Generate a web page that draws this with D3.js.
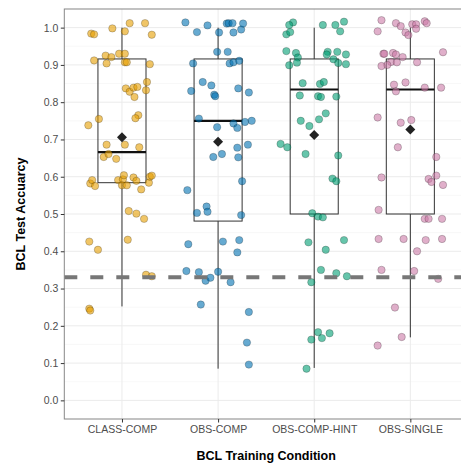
<!DOCTYPE html>
<head>
    <meta charset="utf-8">
    <style>
        html, body { margin: 0; padding: 0; background: #fff; }
        svg { display: block; font-family: "Liberation Sans", Arial, sans-serif; }
        .tick text { fill: #4d4d4d; font-size: 10.5px; }
        .tick line { stroke: #333; }
    </style>
    <script src="https://cdn.jsdelivr.net/npm/d3@7"></script>
</head>
<body>
    <div id="chart"></div>
    <script>
        // conditions on the x axis
        var conditions = ["CLASS-COMP", "OBS-COMP", "OBS-COMP-HINT", "OBS-SINGLE"];
        var colors = ["#E69F00", "#0072B2", "#009E73", "#CC79A7"];
        var yTicks = [0, 0.1, 0.2, 0.3, 0.4, 0.5, 0.6, 0.7, 0.8, 0.9, 1.0];
        var chance = 0.33;

        // per-participant accuracy and horizontal jitter in band units
        var classComp = [0.984, 0.982, 0.998, 1.012, 0.990, 1.012, 0.981, 0.912, 0.925, 0.904, 0.921, 0.930, 0.930, 0.907, 0.907,
            0.902, 0.854, 0.837, 0.828, 0.839, 0.841, 0.832, 0.814, 0.755, 0.738, 0.765, 0.757, 0.686, 0.686, 0.679, 0.653,
            0.661, 0.648, 0.582, 0.591, 0.575, 0.591, 0.593, 0.604, 0.577, 0.577, 0.598, 0.589, 0.566, 0.584, 0.600, 0.603,
            0.508, 0.501, 0.487, 0.431, 0.426, 0.404, 0.337, 0.333, 0.246, 0.241];
        var classCompJit = [-0.32, -0.29, -0.10, 0.08, 0.03, 0.24, 0.31, -0.29, -0.17, -0.16, -0.11, -0.03, 0.03, 0.03, 0.05,
            0.29, 0.26, 0.04, 0.08, 0.12, 0.16, 0.25, 0.13, -0.24, -0.35, 0.17, 0.14, -0.16, 0.03, 0.18, -0.19,
            -0.14, -0.06, -0.33, -0.31, -0.28, -0.04, 0.01, 0.02, 0.00, 0.05, 0.12, 0.15, 0.20, 0.28, 0.29, 0.31,
            0.07, 0.15, 0.23, 0.06, -0.34, -0.25, 0.25, 0.31, -0.34, -0.33];

        var obsComp = [1.014, 0.988, 1.006, 0.987, 1.011, 1.012, 1.012, 0.987, 0.995, 1.011, 0.935, 0.935, 0.904, 0.904, 0.907,
            0.911, 0.854, 0.845, 0.830, 0.820, 0.816, 0.837, 0.826, 0.756, 0.733, 0.743, 0.731, 0.747, 0.750, 0.678, 0.686,
            0.653, 0.661, 0.652, 0.588, 0.564, 0.503, 0.520, 0.506, 0.497, 0.419, 0.426, 0.430, 0.397, 0.347, 0.344, 0.321,
            0.329, 0.345, 0.317, 0.257, 0.237, 0.155, 0.096];
        var obsCompJit = [-0.34, -0.22, -0.11, 0.01, 0.09, 0.11, 0.15, 0.16, 0.24, 0.26, -0.01, 0.10, -0.26, 0.12, 0.16,
            0.22, -0.16, -0.07, -0.28, -0.04, -0.03, 0.21, 0.32, -0.20, -0.01, 0.16, 0.20, 0.28, 0.35, 0.20, 0.31,
            -0.05, 0.04, 0.21, 0.25, -0.32, -0.22, -0.12, -0.11, 0.24, -0.31, 0.05, 0.22, 0.20, -0.33, -0.20, -0.13,
            -0.08, 0.00, 0.13, -0.18, 0.32, 0.30, 0.32];

        var obsCompHint = [1.014, 1.007, 0.982, 0.988, 1.007, 1.007, 0.990, 1.016, 0.937, 0.932, 0.920, 0.906, 0.899, 0.935, 0.928,
            0.935, 0.928, 0.915, 0.905, 0.902, 0.851, 0.849, 0.854, 0.818, 0.816, 0.814, 0.815, 0.770, 0.754, 0.750, 0.736,
            0.688, 0.679, 0.661, 0.657, 0.595, 0.588, 0.502, 0.493, 0.491, 0.424, 0.430, 0.404, 0.350, 0.341, 0.333, 0.317,
            0.183, 0.180, 0.167, 0.163, 0.085];
        var obsCompHintJit = [-0.22, -0.26, -0.29, -0.25, 0.09, 0.22, 0.27, 0.31, -0.29, -0.19, -0.17, -0.18, -0.26, 0.14, 0.13,
            0.24, 0.33, 0.20, 0.25, 0.33, -0.12, 0.06, 0.10, -0.15, 0.04, 0.07, 0.23, 0.12, 0.05, -0.14, -0.05,
            -0.35, -0.28, -0.09, 0.25, 0.19, 0.23, -0.02, 0.04, 0.09, -0.06, 0.31, 0.12, 0.07, 0.23, 0.34, -0.03,
            0.04, 0.16, 0.08, -0.03, -0.08];

        var obsSingle = [1.020, 0.990, 1.012, 1.004, 0.987, 0.980, 1.009, 1.009, 0.997, 1.017, 1.012, 0.930, 0.930, 0.932, 0.928,
            0.921, 0.908, 0.900, 0.897, 0.907, 0.907, 0.934, 0.847, 0.853, 0.829, 0.839, 0.839, 0.759, 0.745, 0.752, 0.679,
            0.653, 0.598, 0.594, 0.586, 0.603, 0.578, 0.511, 0.487, 0.487, 0.487, 0.433, 0.433, 0.430, 0.433, 0.400, 0.350,
            0.347, 0.326, 0.249, 0.170, 0.147];
        var obsSingleJit = [-0.30, -0.34, -0.15, -0.10, -0.05, -0.02, 0.02, 0.06, 0.06, 0.15, 0.17, -0.28, -0.27, -0.18, -0.15,
            -0.08, -0.20, -0.24, -0.30, -0.14, 0.07, 0.34, -0.17, -0.05, -0.15, 0.15, 0.32, -0.34, -0.10, 0.01, -0.13,
            0.27, -0.30, 0.19, 0.22, 0.27, 0.34, -0.33, 0.15, 0.19, 0.33, -0.33, -0.07, 0.16, 0.33, 0.07, -0.30,
            0.04, 0.29, -0.16, -0.09, -0.34];

        // box summaries per condition
        var whiskerLow = [0.252, 0.085, 0.087, 0.169];
        var lowerHinge = [0.584, 0.481, 0.500, 0.500];
        var medians = [0.666, 0.750, 0.834, 0.834];
        var upperHinge = [0.916, 0.916, 0.916, 0.916];
        var whiskerHigh = [1.0, 1.0, 1.0, 1.0];
        var means = [0.706, 0.694, 0.712, 0.727];

        var values = [classComp, obsComp, obsCompHint, obsSingle];
        var jitters = [classCompJit, obsCompJit, obsCompHintJit, obsSingleJit];

        var W = 461, H = 465;
        var panelL = 64.3, panelR = 468, panelT = 9, panelB = 419;

        var svg = d3.select("#chart").append("svg")
            .attr("width", W)
            .attr("height", H);

        var x = d3.scalePoint().domain(conditions).range([panelL, panelR]).padding(0.6);
        var y = d3.scaleLinear().domain([-0.05, 1.05]).range([panelB, panelT]);
        var step = x.step();

        // grid
        var grid = svg.append("g");
        grid.selectAll(".minor")
            .data(d3.range(-0.05, 1.06, 0.1))
            .enter().append("line")
            .attr("x1", panelL).attr("x2", panelR)
            .attr("y1", d => y(d)).attr("y2", d => y(d))
            .attr("stroke", "#f4f4f4").attr("stroke-width", 0.6);
        grid.selectAll(".major")
            .data(yTicks)
            .enter().append("line")
            .attr("x1", panelL).attr("x2", panelR)
            .attr("y1", d => y(d)).attr("y2", d => y(d))
            .attr("stroke", "#ebebeb").attr("stroke-width", 1);
        grid.selectAll(".vert")
            .data(conditions)
            .enter().append("line")
            .attr("x1", d => x(d)).attr("x2", d => x(d))
            .attr("y1", panelT).attr("y2", panelB)
            .attr("stroke", "#ebebeb").attr("stroke-width", 1);

        // boxes
        var boxes = svg.append("g").selectAll("g")
            .data(conditions)
            .enter().append("g");
        var bw = step * 0.25;
        boxes.append("line")
            .attr("x1", d => x(d)).attr("x2", d => x(d))
            .attr("y1", (d, i) => y(upperHinge[i])).attr("y2", (d, i) => y(whiskerHigh[i]))
            .attr("stroke", "#333");
        boxes.append("line")
            .attr("x1", d => x(d)).attr("x2", d => x(d))
            .attr("y1", (d, i) => y(lowerHinge[i])).attr("y2", (d, i) => y(whiskerLow[i]))
            .attr("stroke", "#333");
        boxes.append("rect")
            .attr("x", d => x(d) - bw)
            .attr("width", bw * 2)
            .attr("y", (d, i) => y(upperHinge[i]))
            .attr("height", (d, i) => y(lowerHinge[i]) - y(upperHinge[i]))
            .attr("fill", "none").attr("stroke", "#333");
        boxes.append("line")
            .attr("x1", d => x(d) - bw).attr("x2", d => x(d) + bw)
            .attr("y1", (d, i) => y(medians[i])).attr("y2", (d, i) => y(medians[i]))
            .attr("stroke", "#111").attr("stroke-width", 2.2);

        // jittered points
        conditions.forEach(function (c, i) {
            svg.append("g").selectAll("circle")
                .data(values[i])
                .enter().append("circle")
                .attr("cx", (d, j) => x(c) + jitters[i][j] * step)
                .attr("cy", d => y(d))
                .attr("r", 3.7)
                .attr("fill", colors[i]).attr("fill-opacity", 0.6)
                .attr("stroke", "#000").attr("stroke-opacity", 0.35).attr("stroke-width", 0.6);
        });

        // chance line
        svg.append("line")
            .attr("x1", panelL).attr("x2", panelR)
            .attr("y1", y(chance)).attr("y2", y(chance))
            .attr("stroke", "#777").attr("stroke-width", 4)
            .attr("stroke-dasharray", "13,13");

        // means
        svg.append("g").selectAll("path")
            .data(means)
            .enter().append("path")
            .attr("d", "M0,-5L5,0L0,5L-5,0Z")
            .attr("transform", (d, i) => "translate(" + x(conditions[i]) + "," + y(d) + ")")
            .attr("fill", "#222");

        // panel border
        svg.append("rect")
            .attr("x", panelL).attr("y", panelT)
            .attr("width", panelR - panelL).attr("height", panelB - panelT)
            .attr("fill", "none").attr("stroke", "#888").attr("stroke-width", 1);

        // axes
        svg.append("g")
            .attr("class", "axis")
            .attr("transform", "translate(" + panelL + ",0)")
            .call(d3.axisLeft(y).tickValues(yTicks).tickFormat(d3.format(".1f")).tickSize(3.5).tickPadding(2.5))
            .call(g => g.select(".domain").remove());
        svg.append("g")
            .attr("class", "axis")
            .attr("transform", "translate(0," + panelB + ")")
            .call(d3.axisBottom(x).tickSize(3.5).tickPadding(3))
            .call(g => g.select(".domain").remove());
        svg.selectAll(".axis").attr("font-family", null).attr("font-size", null);

        // titles
        svg.append("text")
            .attr("x", (panelL + panelR) / 2).attr("y", 460)
            .attr("text-anchor", "middle")
            .attr("font-weight", "bold").attr("font-size", "12.5px")
            .text("BCL Training Condition");
        svg.append("text")
            .attr("transform", "translate(24.5," + (panelT + panelB) / 2 + ") rotate(-90)")
            .attr("text-anchor", "middle")
            .attr("font-weight", "bold").attr("font-size", "12.5px")
            .text("BCL Test Accuarcy");
    </script>
</body>
